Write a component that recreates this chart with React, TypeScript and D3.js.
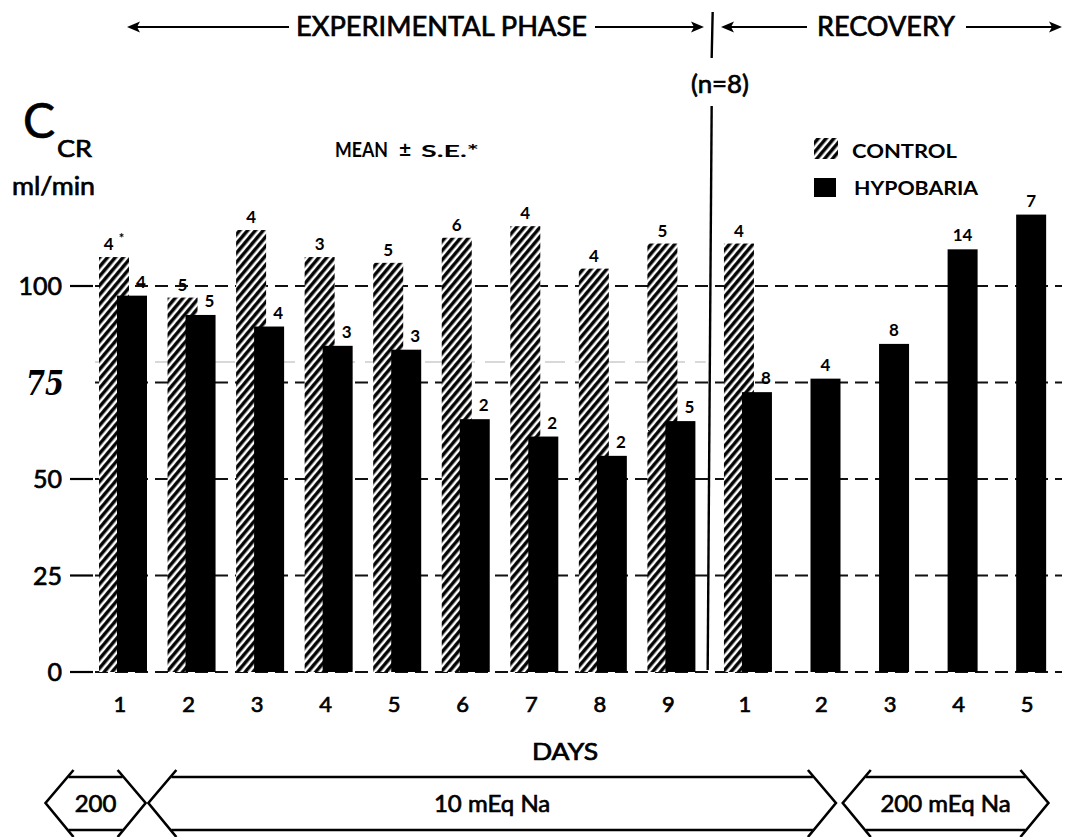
import React from "react";
import * as d3 from "d3";

// Days on the x axis: nine days of the experimental phase, five of recovery
const dayLabels = ["1", "2", "3", "4", "5", "6", "7", "8", "9", "1", "2", "3", "4", "5"];
const dayPhase = ["exp", "exp", "exp", "exp", "exp", "exp", "exp", "exp", "exp", "rec", "rec", "rec", "rec", "rec"];

// Creatinine clearance (ml/min), mean values
const controlValues = [107.5, 97, 114.5, 107.5, 106, 112.5, 115.5, 104.5, 111, 111];
const hypobariaValues = [97.5, 92.5, 89.5, 84.5, 83.5, 65.5, 61, 56, 65, 72.5, 76, 85, 109.5, 118.5];

// S.E. printed above each bar
const controlSE = ["4", "5", "4", "3", "5", "6", "4", "4", "5", "4"];
const hypobariaSE = ["4", "5", "4", "3", "3", "2", "2", "2", "5", "8", "4", "8", "14", "7"];

const yTickValues = [0, 25, 50, 100];
const gridValues = [0, 25, 50, 75, 100];

// Sodium intake periods
const dietLabels = ["200", "10 mEq Na", "200 mEq Na"];

const W = 1067;
const H = 837;
const FONT = "Lato, 'Open Sans', sans-serif";

// slightly heavier strokes on regular-weight text
const med = { stroke: "#000", strokeWidth: 0.7 };

export default function App() {
  const y = d3.scaleLinear().domain([0, 100]).range([672, 286]);
  const slot = d3.scaleLinear().domain([0, 13]).range([99, 99 + 13 * 68.55]);
  const recoveryGap = 8;
  const groupLeft = (i: number) => slot(i) + (dayPhase[i] === "rec" ? recoveryGap : 0);
  const barW = 30;
  const hypOffset = 18;
  const xDivider = (groupLeft(8) + hypOffset + barW + groupLeft(9)) / 2;

  const gridX0 = 95;
  const gridX1 = 1062;

  // horizontal extents of the diet arrows, in slot units
  const dietLeft = [slot(-0.78), slot(0.72), slot(10.85)];
  const dietRight = [slot(0.68), slot(10.75), slot(13.85)];

  const arrowHead = (tipX: number, yy: number, dir: number) =>
    `M${tipX},${yy} L${tipX - dir * 13},${yy - 5.5} L${tipX - dir * 10},${yy} L${tipX - dir * 13},${yy + 5.5} Z`;

  const topY = 27;

  return (
    <svg
      width={W}
      height={H}
      viewBox={`0 0 ${W} ${H}`}
      style={{ position: "absolute", left: 0, top: 0, background: "#fff" }}
      fontFamily={FONT}
    >
      <defs>
        <pattern
          id="hatch"
          patternUnits="userSpaceOnUse"
          width={6}
          height={6}
          patternTransform="rotate(40)"
        >
          <rect width={6} height={6} fill="#fff" />
          <line x1={1.8} y1={0} x2={1.8} y2={6} stroke="#000" strokeWidth={3.4} />
        </pattern>
      </defs>
      <rect width={W} height={H} fill="#fff" />

      {/* phase headings */}
      <g stroke="#000" strokeWidth={2.2}>
        <line x1={130} y1={topY} x2={289} y2={topY} />
        <line x1={595} y1={topY} x2={700} y2={topY} />
        <line x1={725} y1={topY} x2={807} y2={topY} />
        <line x1={966} y1={topY} x2={1058} y2={topY} />
      </g>
      <path d={arrowHead(127, topY, -1)} fill="#000" />
      <path d={arrowHead(704, topY, 1)} fill="#000" />
      <path d={arrowHead(721, topY, -1)} fill="#000" />
      <path d={arrowHead(1062, topY, 1)} fill="#000" />
      <text x={296} y={36} fontSize={27} textLength={291} lengthAdjust="spacingAndGlyphs" {...med}>
        EXPERIMENTAL  PHASE
      </text>
      <text x={817} y={36} fontSize={27} textLength={138} lengthAdjust="spacingAndGlyphs" {...med}>
        RECOVERY
      </text>

      {/* phase divider */}
      <line x1={xDivider + 3} y1={12} x2={xDivider + 2} y2={58} stroke="#000" strokeWidth={2.4} />
      <line x1={xDivider + 2} y1={106} x2={xDivider - 2} y2={670} stroke="#000" strokeWidth={2.4} />
      <text x={720} y={93} fontSize={25} textAnchor="middle" textLength={58} lengthAdjust="spacingAndGlyphs" {...med}>
        (n=8)
      </text>

      {/* y axis title */}
      <text x={23} y={138} fontSize={48} {...med}>C</text>
      <text x={57} y={157} fontSize={24} textLength={35} lengthAdjust="spacingAndGlyphs" {...med}>CR</text>
      <text x={12} y={195} fontSize={25} textLength={83} lengthAdjust="spacingAndGlyphs" {...med}>ml/min</text>

      <g fontWeight={700}>
        <text x={335} y={157} fontSize={20} textLength={53} lengthAdjust="spacingAndGlyphs">MEAN</text>
        <text x={405} y={157} fontSize={21} textAnchor="middle">±</text>
        <text x={421} y={157} fontSize={17} textLength={58} lengthAdjust="spacingAndGlyphs">S.E.*</text>
      </g>

      {/* legend */}
      <rect x={814} y={138} width={24} height={21} fill="url(#hatch)" />
      <text x={852} y={158} fontSize={19} fontWeight={700} textLength={105} lengthAdjust="spacingAndGlyphs">
        CONTROL
      </text>
      <rect x={814} y={178} width={22} height={19} fill="#000" />
      <text x={854} y={195} fontSize={19} fontWeight={700} textLength={124} lengthAdjust="spacingAndGlyphs">
        HYPOBARIA
      </text>

      {/* dashed reference lines */}
      <g stroke="#111" strokeWidth={2.2} strokeDasharray="13 7">
        {gridValues.map((v) => (
          <line key={v} x1={gridX0} y1={y(v)} x2={gridX1} y2={y(v)} />
        ))}
      </g>
      <line x1={gridX0} y1={y(80.3)} x2={xDivider - 4} y2={y(80.3)} stroke="#999" strokeWidth={1.5} strokeDasharray="20 10" opacity={0.5} />

      {/* y ticks and labels */}
      <g stroke="#000" strokeWidth={2.2}>
        {yTickValues.map((v) => (
          <line key={v} x1={70} y1={y(v)} x2={93} y2={y(v)} />
        ))}
      </g>
      {yTickValues.map((v) => (
        <text key={v} x={62} y={y(v)} dy="0.36em" fontSize={25} textAnchor="end" {...med}>
          {v}
        </text>
      ))}
      <text
        x={64}
        y={y(75)}
        dy="0.36em"
        fontSize={34}
        fontWeight={700}
        fontStyle="italic"
        textAnchor="end"
        fontFamily="'DejaVu Serif', serif"
        textLength={38}
        lengthAdjust="spacingAndGlyphs"
      >
        75
      </text>

      {/* control bars */}
      {controlValues.map((v, i) => (
        <rect
          key={"c" + i}
          x={groupLeft(i)}
          y={y(v)}
          width={barW}
          height={y(0) - y(v)}
          fill="url(#hatch)"
        />
      ))}

      {/* hypobaria bars */}
      {hypobariaValues.map((v, i) => (
        <rect
          key={"h" + i}
          x={groupLeft(i) + hypOffset}
          y={y(v)}
          width={barW}
          height={y(0) - y(v)}
          fill="#000"
        />
      ))}

      {/* S.E. labels */}
      {controlValues.map((v, i) => (
        <text
          key={"cl" + i}
          x={groupLeft(i) + barW / 2}
          y={y(v) - 7}
          fontSize={17}
          fontWeight={700}
          textAnchor="middle"
        >
          {controlSE[i]}
          {i === 0 ? (
            <tspan dx={5} dy={-7} fontSize={13}>
              *
            </tspan>
          ) : null}
        </text>
      ))}
      {hypobariaValues.map((v, i) => (
        <text
          key={"hl" + i}
          x={groupLeft(i) + hypOffset + barW / 2 + (i < controlValues.length ? 9 : 0)}
          y={y(v) - 8}
          fontSize={17}
          fontWeight={700}
          textAnchor="middle"
        >
          {hypobariaSE[i]}
        </text>
      ))}

      {/* day labels */}
      {dayLabels.map((d, i) => (
        <text
          key={"d" + i}
          x={groupLeft(i) + (i < controlValues.length ? 21 : 29)}
          y={712}
          fontSize={22}
          textAnchor="middle"
          {...med}
        >
          {d}
        </text>
      ))}
      <text x={565} y={760} fontSize={23} textAnchor="middle" textLength={66} lengthAdjust="spacingAndGlyphs" {...med}>
        DAYS
      </text>

      {/* sodium intake arrows */}
      {dietLabels.map((label, k) => {
        const l = dietLeft[k];
        const r = dietRight[k];
        const mid = 803;
        const top = 777;
        const bot = 830;
        const depth = 25;
        const over = 7;
        const tx = (l + r) / 2;
        return (
          <g key={label} stroke="#000" strokeWidth={2.6} fill="none">
            <path d={`M${l + depth + 3},${top - over} L${l},${mid} L${l + depth + 3},${bot + over}`} />
            <path d={`M${r - depth - 3},${top - over} L${r},${mid} L${r - depth - 3},${bot + over}`} />
            <line x1={l + depth - 2} y1={top} x2={r - depth + 2} y2={top} />
            <line x1={l + depth - 2} y1={bot} x2={r - depth + 2} y2={bot} />
            <text
              x={tx}
              y={mid + 9}
              fontSize={24}
              textAnchor="middle"
              fill="#000"
              fontFamily={FONT}
              stroke="#000"
              strokeWidth={0.7}
            >
              {label}
            </text>
          </g>
        );
      })}
    </svg>
  );
}
